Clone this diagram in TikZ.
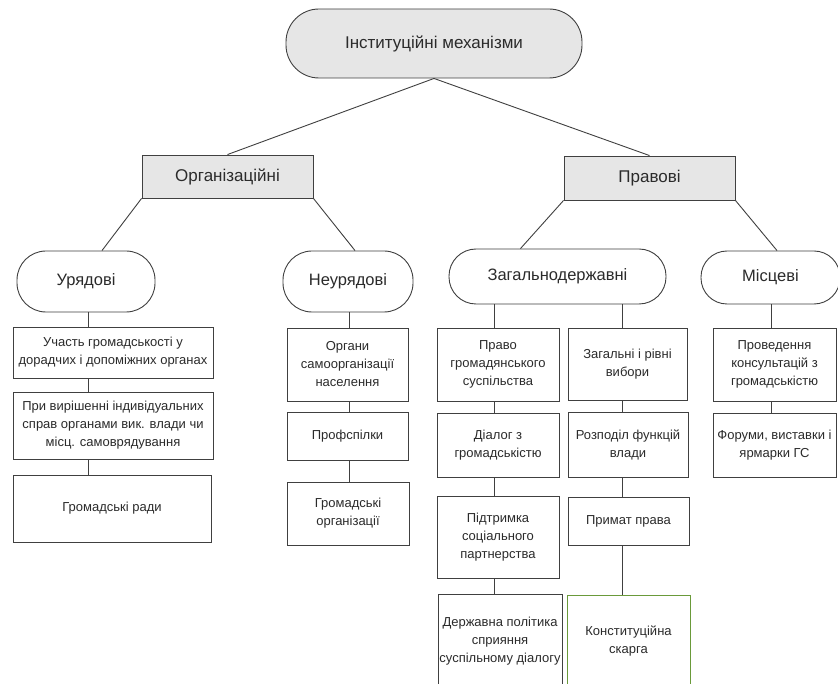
\documentclass[tikz,border=0pt]{standalone}
\usepackage{fontspec}
\setmainfont{Liberation Sans}
\definecolor{ln}{HTML}{404040}
\definecolor{gfill}{HTML}{E6E6E6}
\definecolor{txt}{HTML}{2B2B2B}
\definecolor{grn}{HTML}{6A9A3A}
\begin{document}
\begin{tikzpicture}[x=1pt,y=-1pt,
  base/.style={draw=ln,line width=0.9pt,text=txt,inner sep=1pt,align=center,anchor=center},
  box/.style={base,rectangle,font=\fontsize{13}{18}\selectfont},
  hbox/.style={base,rectangle,fill=gfill,font=\fontsize{17}{20}\selectfont},
  stad/.style={base,rectangle,rounded corners=26pt,font=\fontsize{16.5}{20}\selectfont},
  con/.style={draw=ln,line width=0.9pt}]
\clip (0,0) rectangle (838,684);
\useasboundingbox (0,0) rectangle (838,684);
\fill[white] (0,0) rectangle (838,684);

% top level
\node[stad,fill=gfill,rounded corners=33pt,minimum width=296pt,minimum height=69pt,font=\fontsize{17}{20}\selectfont] (top) at (434,43.5) {Інституційні механізми};
\node[hbox,minimum width=171pt,minimum height=43pt] (org) at (227.5,176.5) {Організаційні};
\node[hbox,minimum width=171pt,minimum height=44pt] (prav) at (649.5,178) {Правові};

% second level
\node[stad,rounded corners=29pt,minimum width=138pt,minimum height=61pt] (ur) at (86,281.5) {Урядові};
\node[stad,rounded corners=29pt,minimum width=130pt,minimum height=61pt] (neur) at (348,281.5) {Неурядові};
\node[stad,rounded corners=27pt,minimum width=217pt,minimum height=55pt] (zag) at (557.5,276.5) {Загальнодержавні};
\node[stad,rounded corners=26pt,minimum width=139pt,minimum height=53pt] (mis) at (770.5,277.5) {Місцеві};

% Урядові column
\node[box,minimum width=200pt,minimum height=51pt] (b1) at (113,352.5) {Участь громадськості у\\дорадчих і допоміжних органах};
\node[box,minimum width=200pt,minimum height=67pt] (b2) at (113,425.5) {При вирішенні індивідуальних\\справ органами вик. влади чи\\місц. самоврядування};
\node[box,minimum width=198pt,minimum height=67pt] (b3) at (112,508.5) {Громадські ради};

% Неурядові column
\node[box,minimum width=121pt,minimum height=73pt] (n1) at (347.5,364.5) {Органи\\самоорганізації\\населення};
\node[box,minimum width=121pt,minimum height=48pt] (n2) at (347.5,436) {Профспілки};
\node[box,minimum width=122pt,minimum height=63pt] (n3) at (348,513.5) {Громадські\\організації};

% Загальнодержавні left column
\node[box,minimum width=122pt,minimum height=73pt] (z1) at (498,364.5) {Право\\громадянського\\суспільства};
\node[box,minimum width=122pt,minimum height=64pt] (z2) at (498,445) {Діалог з\\громадськістю};
\node[box,minimum width=122pt,minimum height=82pt] (z3) at (498,537) {Підтримка\\соціального\\партнерства};
\node[box,minimum width=124pt,minimum height=94pt] (z4) at (500,641) {Державна політика\\сприяння\\суспільному діалогу};

% Загальнодержавні right column
\node[box,minimum width=119pt,minimum height=72pt] (r1) at (627.5,364.5) {Загальні і рівні\\вибори};
\node[box,minimum width=120pt,minimum height=65pt] (r2) at (628,444.5) {Розподіл функцій\\влади};
\node[box,minimum width=121pt,minimum height=48pt] (r3) at (628.5,521) {Примат права};
\node[box,draw=grn,minimum width=123pt,minimum height=92pt] (r4) at (628.5,641) {Конституційна\\скарга};

% Місцеві column
\node[box,minimum width=123pt,minimum height=73pt] (m1) at (774.5,364.5) {Проведення\\консультацій з\\громадськістю};
\node[box,minimum width=123pt,minimum height=64pt] (m2) at (774.5,445) {Форуми, виставки і\\ярмарки ГС};

% connectors
\draw[con] (top.south) -- (org.north);
\draw[con] (top.south) -- (prav.north);
\draw[con] (org.south west) -- ([xshift=16pt]ur.north);
\draw[con] (org.south east) -- ([xshift=7pt]neur.north);
\draw[con] (prav.south west) -- ([xshift=-37pt]zag.north);
\draw[con] (prav.south east) -- ([xshift=6.5pt]mis.north);

\draw[con] ([xshift=2pt]ur.south) -- ([xshift=-25pt]b1.north);
\draw[con] ([xshift=-25pt]b1.south) -- ([xshift=-25pt]b2.north);
\draw[con] ([xshift=-25pt]b2.south) -- ([xshift=-24pt]b3.north);

\draw[con] ([xshift=1pt]neur.south) -- ([xshift=1.5pt]n1.north);
\draw[con] ([xshift=1.5pt]n1.south) -- ([xshift=1.5pt]n2.north);
\draw[con] ([xshift=1.5pt]n2.south) -- ([xshift=1pt]n3.north);

\draw[con] ([xshift=-63.5pt]zag.south) -- ([xshift=-4pt]z1.north);
\draw[con] ([xshift=-4pt]z1.south) -- ([xshift=-4pt]z2.north);
\draw[con] ([xshift=-4pt]z2.south) -- ([xshift=-4pt]z3.north);
\draw[con] ([xshift=-4pt]z3.south) -- ([xshift=-6pt]z4.north);

\draw[con] ([xshift=64.5pt]zag.south) -- ([xshift=-5.5pt]r1.north);
\draw[con] ([xshift=-5.5pt]r1.south) -- ([xshift=-6pt]r2.north);
\draw[con] ([xshift=-6pt]r2.south) -- ([xshift=-6.5pt]r3.north);
\draw[con] ([xshift=-6.5pt]r3.south) -- ([xshift=-6.5pt]r4.north);

\draw[con] ([xshift=0.5pt]mis.south) -- ([xshift=-3.5pt]m1.north);
\draw[con] ([xshift=-3.5pt]m1.south) -- ([xshift=-3.5pt]m2.north);
\end{tikzpicture}
\end{document}
